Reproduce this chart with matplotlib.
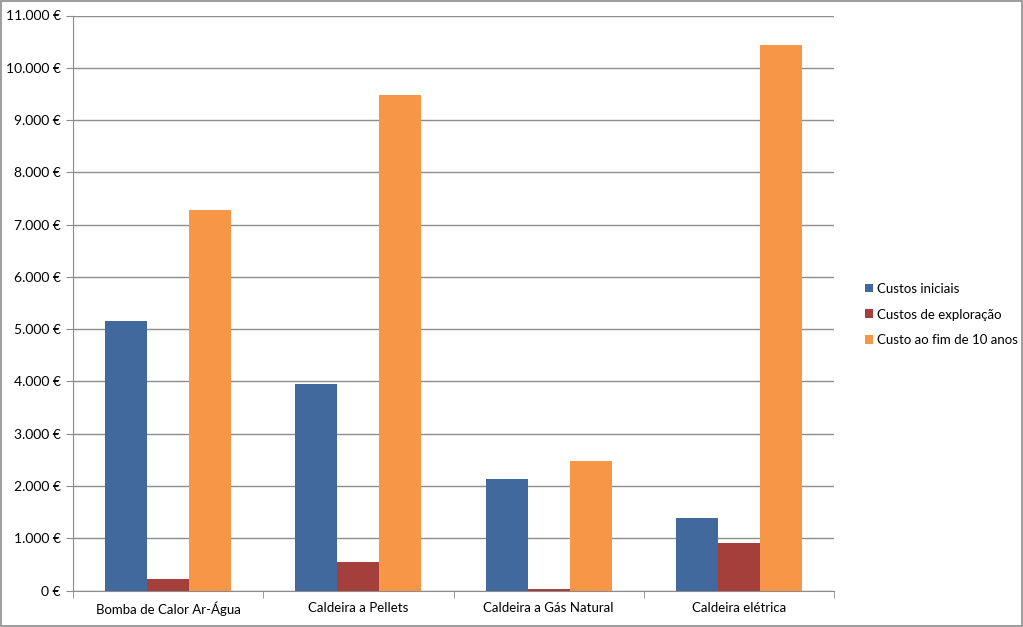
import matplotlib.pyplot as plt
import numpy as np
from matplotlib.patches import Rectangle
from matplotlib.ticker import FuncFormatter, FixedLocator

categories = [
    "Bomba de Calor Ar-Água",
    "Caldeira a Pellets",
    "Caldeira a Gás Natural",
    "Caldeira elétrica",
]
custos_iniciais = [5160, 3950, 2130, 1390]
custos_exploracao = [215, 550, 30, 905]
custo_10_anos = [7280, 9480, 2480, 10440]

series_names = ["Custos iniciais", "Custos de exploração", "Custo ao fim de 10 anos"]
colors = ["#41699E", "#A43F3C", "#F79646"]

plt.rcParams["font.family"] = ["Lato", "DejaVu Sans"]

fig = plt.figure(figsize=(10.23, 6.27), dpi=100)
# grey outer frame like the spreadsheet chart area
fig.patches.append(
    Rectangle((0.001, 0.001), 0.998, 0.997, transform=fig.transFigure,
              fill=False, edgecolor="#8c8c8c", linewidth=1.2)
)
ax = fig.add_axes([73 / 1023, 36.5 / 627, 761 / 1023, 575 / 627])

x = np.arange(len(categories))
width = 0.221
for i, (vals, name, col) in enumerate(
    zip([custos_iniciais, custos_exploracao, custo_10_anos], series_names, colors)
):
    ax.bar(x + (i - 1) * width, vals, width, color=col, label=name, zorder=3)

ax.set_xlim(-0.5, len(categories) - 0.5)
ax.set_ylim(0, 11000)
ax.set_yticks(np.arange(0, 11001, 1000))
ax.yaxis.set_major_formatter(
    FuncFormatter(lambda v, p: f"{int(v):,}".replace(",", ".") + " €")
)
ax.grid(axis="y", color="#8c8c8c", linewidth=1, zorder=0)
ax.set_axisbelow(True)

ax.set_xticks(x)
ax.set_xticklabels(categories)
# tick marks sit between categories
ax.xaxis.set_minor_locator(FixedLocator(np.arange(-0.5, len(categories), 1)))
ax.tick_params(axis="x", which="major", length=0, pad=8, labelsize=9.5)
ax.tick_params(axis="x", which="minor", length=5, color="#8c8c8c")
ax.tick_params(axis="y", length=5, color="#8c8c8c", labelsize=10, pad=4)

for side in ("top", "right"):
    ax.spines[side].set_visible(False)
for side in ("left", "bottom"):
    ax.spines[side].set_color("#8c8c8c")

ax.legend(loc="center left", bbox_to_anchor=(1.025, 0.48), frameon=False,
          fontsize=9.5, handlelength=0.65, handleheight=0.65,
          handletextpad=0.25, labelspacing=1.05)

fig.savefig("out.png", dpi=100)
